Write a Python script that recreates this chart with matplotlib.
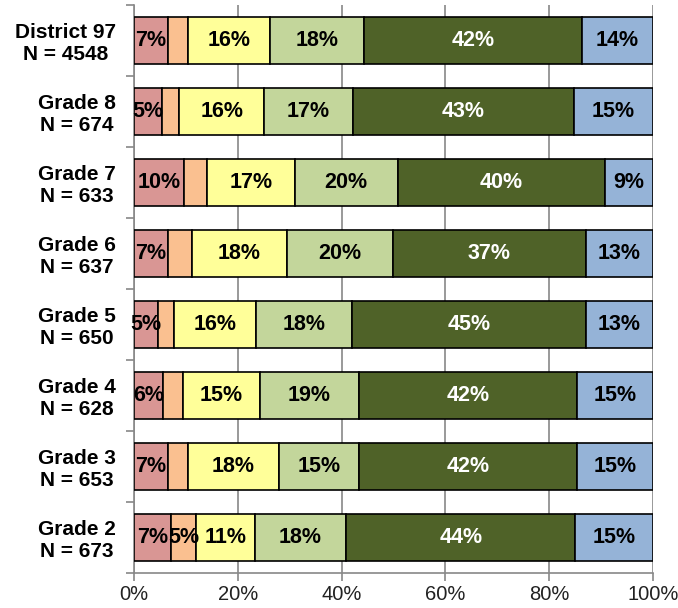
import matplotlib.pyplot as plt
import numpy as np

plt.rcParams['font.family'] = ['Liberation Sans', 'DejaVu Sans']

grupos = ["District 97\nN = 4548", "Grade 8\nN = 674", "Grade 7\nN = 633",
          "Grade 6\nN = 637", "Grade 5\nN = 650", "Grade 4\nN = 628",
          "Grade 3\nN = 653", "Grade 2\nN = 673"]

# porcentajes por categoria (de izquierda a derecha)
rojo     = [6.6, 5.4, 9.6, 6.6, 4.7, 5.6, 6.6, 7.2]
naranja  = [3.8, 3.3, 4.4, 4.5, 3.0, 3.9, 3.8, 4.7]
amarillo = [15.8, 16.4, 17.0, 18.4, 15.9, 14.7, 17.6, 11.4]
verde    = [18.2, 17.1, 19.8, 20.4, 18.4, 19.1, 15.4, 17.6]
oscuro   = [41.9, 42.6, 40.0, 37.2, 45.1, 42.0, 42.0, 44.1]
azul     = [13.7, 15.2, 9.2, 12.9, 12.9, 14.7, 14.6, 15.0]

series = [rojo, naranja, amarillo, verde, oscuro, azul]
colores = ["#D99694", "#FAC090", "#FFFF99", "#C3D69B", "#4F6228", "#95B3D7"]
txtcol = ["k", "k", "k", "k", "w", "k"]
minimo = [0, 4.6, 0, 0, 0, 0]

fig = plt.figure(figsize=(6.78, 6.08), dpi=100)
ax = fig.add_axes([0.1976, 0.0576, 0.7655, 0.9342])

y = np.arange(len(grupos))
izq = np.zeros(len(grupos))
for s, c, tc, m in zip(series, colores, txtcol, minimo):
    s = np.array(s)
    ax.barh(y, s, left=izq, height=0.66, color=c, edgecolor="k", linewidth=1.2, zorder=3)
    for i in range(len(s)):
        if s[i] >= m:
            ax.text(izq[i] + s[i] / 2, y[i], "%.0f%%" % s[i], ha="center", va="center",
                    color=tc, fontsize=15.5, fontweight="bold", zorder=4)
    izq = izq + s

ax.set_xlim(0, 100)
ax.set_ylim(len(grupos) - 0.5, -0.5)
ax.set_xticks(np.arange(0, 101, 20))
ax.set_xticklabels(["%d%%" % v for v in range(0, 101, 20)], fontsize=14.5, color="#222222")
ax.set_yticks(y)
ax.set_yticklabels(grupos, fontsize=15, fontweight="bold", multialignment="center",
                   linespacing=1.15)
ax.set_yticks(np.arange(-0.5, len(grupos), 1), minor=True)
ax.tick_params(axis="y", which="major", length=0, pad=13)
ax.tick_params(axis="y", which="minor", length=6, color="#888888", width=1.2)
ax.tick_params(axis="x", length=6, color="#888888", width=1.2, pad=3)
ax.grid(axis="x", color="#888888", linewidth=1.2, zorder=0)
for lado in ["top", "right"]:
    ax.spines[lado].set_visible(False)
for lado in ["left", "bottom"]:
    ax.spines[lado].set_color("#888888")
    ax.spines[lado].set_linewidth(1.2)

plt.savefig("out.png", dpi=100)
